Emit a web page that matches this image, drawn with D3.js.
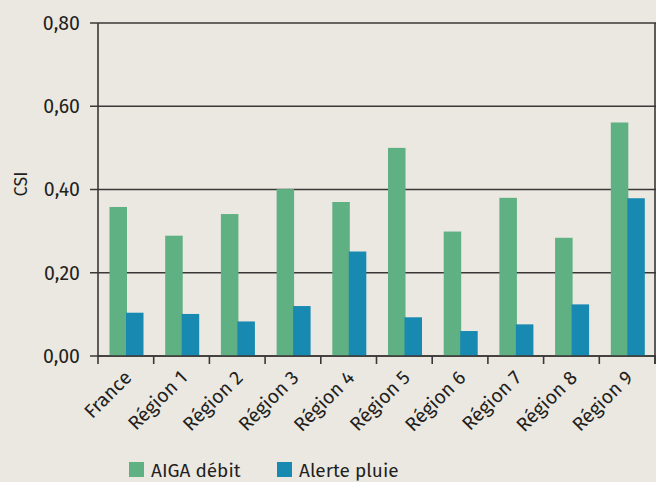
<!DOCTYPE html>
<html>
<head>
<meta charset="utf-8">
<script src="https://cdn.jsdelivr.net/npm/d3@7"></script>
<style>
  html, body { margin: 0; padding: 0; background: #ebe8e2; }
  svg { display: block; font-family: "Fira Sans", "Open Sans", sans-serif; }
</style>
</head>
<body>
<svg id="chart" width="656" height="482"></svg>
<script>
// values
var categories = ['France', 'Région 1', 'Région 2', 'Région 3', 'Région 4', 'Région 5', 'Région 6', 'Région 7', 'Région 8', 'Région 9'];
var aigaDebit = [0.358, 0.289, 0.341, 0.401, 0.370, 0.500, 0.299, 0.380, 0.284, 0.561];
var alertePluie = [0.104, 0.101, 0.083, 0.120, 0.251, 0.093, 0.060, 0.076, 0.124, 0.379];
var yTicks = [0, 0.2, 0.4, 0.6, 0.8];
var seriesNames = ['AIGA débit', 'Alerte pluie'];

(function(){
var colors = ['#5fb083', '#1889b0'];
var axisColor = '#3a3836';
var textColor = '#231f20';

var svg = d3.select('#chart');
var mLeft = 98, mRight = 655, mTop = 23, mBottom = 356;

var x = d3.scaleBand().domain(categories).range([mLeft, mRight]);
var y = d3.scaleLinear().domain([0, 0.8]).range([mBottom, mTop]);

var fmt = function(d){ return d3.format('.2f')(d).replace('.', ','); };

// grid lines + y ticks
svg.append('g').selectAll('line').data(yTicks).enter().append('line')
    .attr('x1', mLeft - 8).attr('x2', 656)
    .attr('y1', function(d){ return y(d); }).attr('y2', function(d){ return y(d); })
    .attr('stroke', axisColor).attr('stroke-width', 1.6);

svg.append('g').selectAll('text').data(yTicks).enter().append('text')
    .attr('x', mLeft - 18).attr('y', function(d){ return y(d); })
    .attr('dy', '0.35em').attr('text-anchor', 'end')
    .attr('font-size', 19.5).attr('fill', textColor)
    .text(fmt);

// bars
var bw = 17.5;
var groups = svg.append('g').selectAll('g').data(categories).enter().append('g');

groups.append('rect')
    .attr('x', function(d){ return x(d) + 11.5; })
    .attr('y', function(d, i){ return y(aigaDebit[i]); })
    .attr('width', bw)
    .attr('height', function(d, i){ return y(0) - y(aigaDebit[i]); })
    .attr('fill', colors[0]);

groups.append('rect')
    .attr('x', function(d){ return x(d) + 11.5 + bw - 1; })
    .attr('y', function(d, i){ return y(alertePluie[i]); })
    .attr('width', bw)
    .attr('height', function(d, i){ return y(0) - y(alertePluie[i]); })
    .attr('fill', colors[1]);

// axes lines
svg.append('line').attr('x1', mLeft).attr('x2', mLeft).attr('y1', mTop).attr('y2', mBottom + 8)
    .attr('stroke', axisColor).attr('stroke-width', 1.6);
svg.append('line').attr('x1', mRight).attr('x2', mRight).attr('y1', mTop).attr('y2', mBottom + 8)
    .attr('stroke', axisColor).attr('stroke-width', 1.6);
svg.append('line').attr('x1', mLeft).attr('x2', 656).attr('y1', mBottom).attr('y2', mBottom)
    .attr('stroke', axisColor).attr('stroke-width', 1.6);

// x ticks between bands
svg.append('g').selectAll('line').data(categories).enter().append('line')
    .attr('x1', function(d){ return x(d) + x.bandwidth(); })
    .attr('x2', function(d){ return x(d) + x.bandwidth(); })
    .attr('y1', mBottom).attr('y2', mBottom + 8)
    .attr('stroke', axisColor).attr('stroke-width', 1.6);

// category labels
svg.append('g').selectAll('text').data(categories).enter().append('text')
    .attr('transform', function(d){
        return 'translate(' + (x(d) + x.bandwidth() / 2 + 2) + ',' + (mBottom + 18) + ') rotate(-45)';
    })
    .attr('text-anchor', 'end').attr('dy', '0.35em')
    .attr('font-size', 19.5).attr('fill', textColor)
    .text(function(d){ return d; });

// y label
svg.append('text')
    .attr('transform', 'translate(27,184) rotate(-90)')
    .attr('text-anchor', 'middle').attr('font-size', 18).attr('fill', textColor)
    .text('CSI');

// legend
var legendX = [129, 277];
var legend = svg.append('g').selectAll('g').data(seriesNames).enter().append('g')
    .attr('transform', function(d, i){ return 'translate(' + legendX[i] + ',462)'; });
legend.append('rect').attr('width', 15).attr('height', 15)
    .attr('fill', function(d, i){ return colors[i]; });
legend.append('text').attr('x', 22).attr('y', 8).attr('dy', '0.36em')
    .attr('font-size', 19).attr('fill', textColor)
    .text(function(d){ return d; });
})();
</script>
</body>
</html>
